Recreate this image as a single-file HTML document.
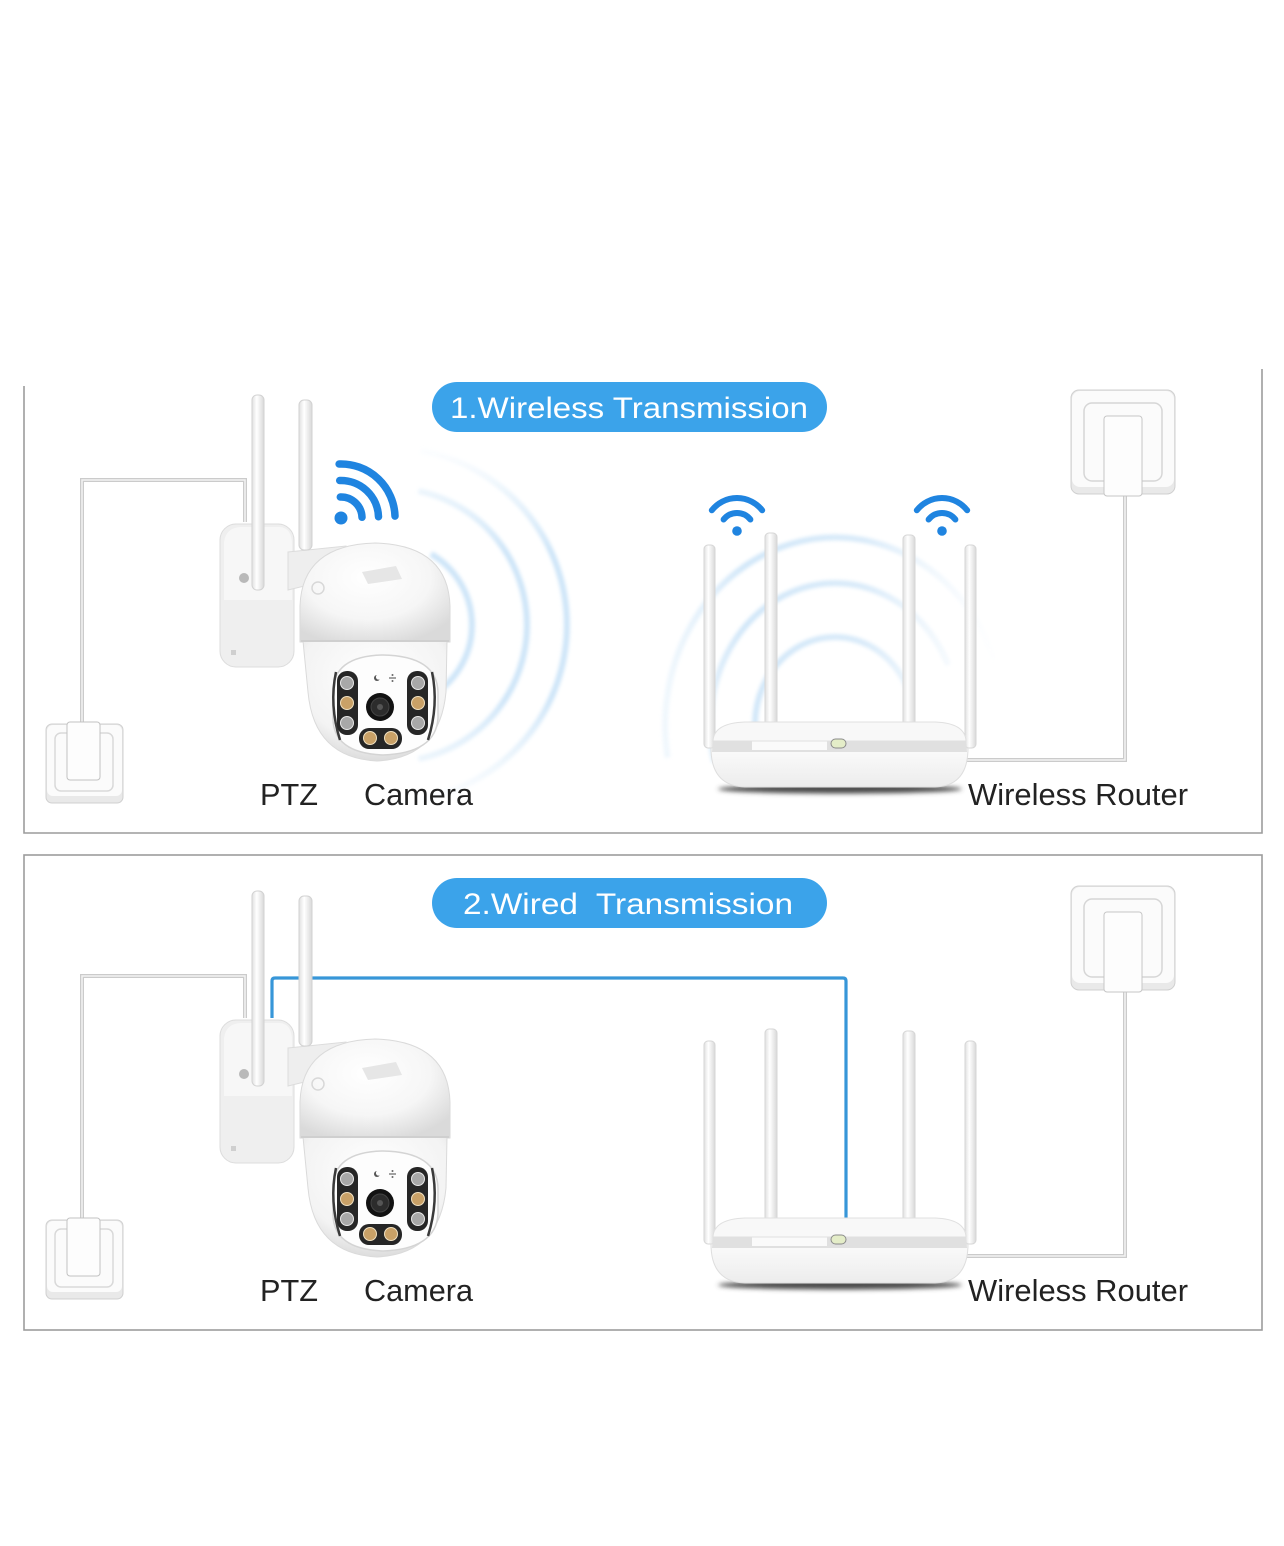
<!DOCTYPE html>
<html><head><meta charset="utf-8">
<style>
html,body{margin:0;padding:0;background:#fff;}
svg{display:block;}
text{font-family:"Liberation Sans",Arial,sans-serif;}
</style></head><body>
<svg width="1284" height="1546" viewBox="0 0 1284 1546" xmlns="http://www.w3.org/2000/svg" xmlns:xlink="http://www.w3.org/1999/xlink">
<defs>
 <radialGradient id="domeG" cx="0.45" cy="0.35" r="0.7">
  <stop offset="0" stop-color="#ffffff"/>
  <stop offset="0.6" stop-color="#f6f6f6"/>
  <stop offset="1" stop-color="#dadada"/>
 </radialGradient>
 <radialGradient id="ballG" cx="0.5" cy="0.3" r="0.75">
  <stop offset="0" stop-color="#ffffff"/>
  <stop offset="0.7" stop-color="#f3f3f3"/>
  <stop offset="1" stop-color="#d6d6d6"/>
 </radialGradient>
 <linearGradient id="antG" x1="0" x2="1" y1="0" y2="0">
  <stop offset="0" stop-color="#e0e0e0"/>
  <stop offset="0.4" stop-color="#ffffff"/>
  <stop offset="1" stop-color="#d8d8d8"/>
 </linearGradient>
 <linearGradient id="rtBody" x1="0" x2="0" y1="0" y2="1">
  <stop offset="0" stop-color="#fbfbfb"/>
  <stop offset="1" stop-color="#ececec"/>
 </linearGradient>
 <linearGradient id="camArc" gradientUnits="userSpaceOnUse" x1="0" y1="440" x2="0" y2="810">
  <stop offset="0" stop-color="#d6eaf9" stop-opacity="0"/>
  <stop offset="0.3" stop-color="#c6e1f7"/>
  <stop offset="0.7" stop-color="#c6e1f7"/>
  <stop offset="1" stop-color="#d6eaf9" stop-opacity="0"/>
 </linearGradient>
 <linearGradient id="rtArc" gradientUnits="userSpaceOnUse" x1="660" y1="0" x2="1000" y2="0">
  <stop offset="0" stop-color="#d6eaf9" stop-opacity="0.4"/>
  <stop offset="0.25" stop-color="#c6e1f7"/>
  <stop offset="0.6" stop-color="#d0e6f8"/>
  <stop offset="1" stop-color="#e6f1fb" stop-opacity="0"/>
 </linearGradient>
 <filter id="blur2" x="-20%" y="-20%" width="140%" height="140%"><feGaussianBlur stdDeviation="1.8"/></filter>
 <filter id="blurS" x="-20%" y="-200%" width="140%" height="500%"><feGaussianBlur stdDeviation="2.5"/></filter>

 <g id="cam">
  <rect x="220" y="524" width="74" height="143" rx="16" fill="#efefef" stroke="#dcdcdc"/>
  <path d="M224,542 Q226,528 240,527 L280,527 Q292,528 292,545 L292,600 L224,600 Z" fill="#f7f7f7"/>
  <rect x="231" y="650" width="5" height="5" fill="#cfcfcf"/>
  <circle cx="244" cy="578" r="5" fill="#b9b9b9"/>
  <rect x="252" y="395" width="12" height="195" rx="5" fill="url(#antG)" stroke="#d2d2d2"/>
  <path d="M288,552 L346,546 L346,576 L288,590 Z" fill="#eeeeee" stroke="#dcdcdc"/>
  <rect x="299" y="400" width="13" height="150" rx="5" fill="url(#antG)" stroke="#d2d2d2"/>
  <path d="M300,642 L300,606 Q302,545 375,543 Q448,545 450,606 L450,642 Z" fill="url(#domeG)" stroke="#dadada"/>
  <path d="M362,572 L396,566 L402,579 L368,584 Z" fill="#e6e6e6"/>
  <circle cx="318" cy="588" r="6" fill="none" stroke="#d8d8d8" stroke-width="1.5"/>
  <path d="M303,641 L447,641 L446,692 Q440,758 377,761 Q314,758 308,692 Z" fill="url(#ballG)" stroke="#dadada"/>
  <line x1="301" y1="641" x2="449" y2="641" stroke="#cfcfcf" stroke-width="2"/>
  <path d="M333,692 Q333,656 383,655 Q437,656 438,692 L438,718 Q436,753 383,755 Q333,753 333,718 Z" fill="#fdfdfd" stroke="#d4d4d4" stroke-width="1.5"/>
  <path d="M336,672 Q329,705 340,740" fill="none" stroke="#3a3a3a" stroke-width="2.5"/>
  <path d="M432,672 Q439,705 428,740" fill="none" stroke="#3a3a3a" stroke-width="2.5"/>
  <rect x="337" y="671" width="21" height="64" rx="10" fill="#262626"/>
  <rect x="407" y="671" width="21" height="64" rx="10" fill="#262626"/>
  <rect x="359" y="728" width="43" height="21" rx="10" fill="#262626"/>
  <circle cx="347" cy="683" r="6.5" fill="#a8a8a8" stroke="#e8e8e8"/>
  <circle cx="347" cy="703" r="6.5" fill="#c9a167" stroke="#f0e0c0"/>
  <circle cx="347" cy="723" r="6.5" fill="#a8a8a8" stroke="#e8e8e8"/>
  <circle cx="418" cy="683" r="6.5" fill="#a8a8a8" stroke="#e8e8e8"/>
  <circle cx="418" cy="703" r="6.5" fill="#c9a167" stroke="#f0e0c0"/>
  <circle cx="418" cy="723" r="6.5" fill="#a8a8a8" stroke="#e8e8e8"/>
  <circle cx="370" cy="738" r="6.5" fill="#c9a167" stroke="#f0e0c0"/>
  <circle cx="391" cy="738" r="6.5" fill="#c9a167" stroke="#f0e0c0"/>
  <circle cx="380" cy="707" r="14" fill="#121212"/>
  <circle cx="380" cy="707" r="9" fill="#2c2c2c" stroke="#444"/>
  <circle cx="380" cy="707" r="3" fill="#555"/>
  <circle cx="377" cy="678" r="3" fill="#555"/>
  <circle cx="378.5" cy="677" r="2.6" fill="#fdfdfd"/>
  <line x1="389" y1="678" x2="396" y2="678" stroke="#666" stroke-width="1.2"/>
  <circle cx="392.5" cy="675" r="1" fill="#666"/>
  <circle cx="392.5" cy="681" r="1" fill="#666"/>
 </g>

 <g id="rt">
  <ellipse cx="840" cy="789" rx="122" ry="4.5" fill="#4a4a4a" filter="url(#blurS)"/>
  <rect x="704" y="545" width="11" height="203" rx="4" fill="url(#antG)" stroke="#d6d6d6"/>
  <rect x="765" y="533" width="12" height="195" rx="4" fill="url(#antG)" stroke="#d6d6d6"/>
  <rect x="903" y="535" width="12" height="193" rx="4" fill="url(#antG)" stroke="#d6d6d6"/>
  <rect x="965" y="545" width="11" height="203" rx="4" fill="url(#antG)" stroke="#d6d6d6"/>
  <path d="M711,748 L968,748 Q968,786 935,787 L745,787 Q711,786 711,748 Z" fill="url(#rtBody)" stroke="#dedede"/>
  <path d="M713,739 L966,739 L967,752 L712,752 Z" fill="#e0e0e0"/>
  <rect x="752" y="741" width="75" height="9" fill="#fafafa"/>
  <path d="M713,741 Q714,723 745,722 L935,722 Q965,723 966,741 Z" fill="#f8f8f8" stroke="#e0e0e0"/>
  <rect x="831" y="739" width="15" height="9" rx="4.5" fill="#e4edc8" stroke="#8a8a8a"/>
 </g>

 <g id="olL">
  <rect x="46" y="724" width="77" height="79" rx="6" fill="#e9e9e9" stroke="#d0d0d0"/>
  <rect x="47" y="725" width="75" height="71" rx="6" fill="#fbfbfb"/>
  <rect x="55" y="733" width="58" height="58" rx="6" fill="none" stroke="#d9d9d9" stroke-width="1.5"/>
  <rect x="67" y="722" width="33" height="58" rx="3" fill="#fdfdfd" stroke="#c2c2c2"/>
 </g>

 <g id="olR">
  <rect x="1071" y="390" width="104" height="104" rx="8" fill="#e9e9e9" stroke="#d0d0d0"/>
  <rect x="1072" y="391" width="102" height="96" rx="8" fill="#fbfbfb"/>
  <rect x="1084" y="403" width="78" height="78" rx="8" fill="none" stroke="#d6d6d6" stroke-width="1.5"/>
  <rect x="1104" y="416" width="38" height="80" rx="3" fill="#fdfdfd" stroke="#c6c6c6"/>
 </g>

 <g id="cables">
  <path d="M245,522 L245,480 L82,480 L82,724" fill="none" stroke="#cbcbcb" stroke-width="4"/>
  <path d="M245,522 L245,480 L82,480 L82,724" fill="none" stroke="#f3f3f3" stroke-width="1.5"/>
  <path d="M1125,496 L1125,760 L967,760" fill="none" stroke="#cbcbcb" stroke-width="4"/>
  <path d="M1125,496 L1125,760 L967,760" fill="none" stroke="#f3f3f3" stroke-width="1.5"/>
 </g>
</defs>

<rect width="1284" height="1546" fill="#ffffff"/>

<!-- Panel 1 -->
<path d="M24,386 L24,833 L1262,833 L1262,369" fill="none" stroke="#9c9c9c" stroke-width="1.6"/>

<!-- camera waves -->
<g filter="url(#blur2)" fill="none" stroke="url(#camArc)" stroke-width="6" opacity="0.85">
 <path d="M420.7,450.7 A177,177 0 0 1 420.7,799.3"/>
 <path d="M418.5,491 A137,137 0 0 1 418.5,759"/>
 <path d="M431,554 A82,82 0 0 1 431,696"/>
</g>
<!-- router waves -->
<g filter="url(#blur2)" fill="none" stroke="url(#rtArc)" stroke-width="6" opacity="0.8">
 <path d="M667.6,757.6 A170,188 0 0 1 994.7,660.7"/>
 <path d="M714.3,761.8 A125,142 0 0 1 948.3,665"/>
 <path d="M759.8,755.1 A80,88 0 0 1 910.2,694.9"/>
</g>

<use xlink:href="#cables"/>
<use xlink:href="#olL"/>
<use xlink:href="#olR"/>
<use xlink:href="#cam"/>
<use xlink:href="#rt"/>

<!-- camera wifi -->
<g fill="none" stroke="#1f84e0" stroke-width="7.5" stroke-linecap="round">
 <path d="M339.1,464 A54,54 0 0 1 395,516.1"/>
 <path d="M339.7,480.5 A37.5,37.5 0 0 1 378.5,516.7"/>
 <path d="M340.3,497 A21,21 0 0 1 362,517.3"/>
</g>
<circle cx="341" cy="518" r="6.5" fill="#1f84e0"/>

<!-- router wifi icons -->
<g fill="none" stroke="#1f84e0" stroke-width="6" stroke-linecap="round">
 <path d="M711.8,510.3 A32,32 0 0 1 762.2,510.3"/>
 <path d="M723.6,519.5 A17,17 0 0 1 750.4,519.5"/>
 <path d="M916.8,510.3 A32,32 0 0 1 967.2,510.3"/>
 <path d="M928.6,519.5 A17,17 0 0 1 955.4,519.5"/>
</g>
<circle cx="737" cy="531" r="4.8" fill="#1f84e0"/>
<circle cx="942" cy="531" r="4.8" fill="#1f84e0"/>

<!-- pill 1 -->
<rect x="432" y="382" width="395" height="50" rx="25" fill="#3ba3ea"/>
<text x="450" y="418" font-size="30" fill="#ffffff" textLength="358" lengthAdjust="spacingAndGlyphs">1.Wireless Transmission</text>

<!-- labels 1 -->
<text x="260" y="805" font-size="31" fill="#222" textLength="58" lengthAdjust="spacingAndGlyphs">PTZ</text>
<text x="364" y="805" font-size="31" fill="#222" textLength="109" lengthAdjust="spacingAndGlyphs">Camera</text>
<text x="968" y="805" font-size="31" fill="#222" textLength="220" lengthAdjust="spacingAndGlyphs">Wireless Router</text>

<!-- Panel 2 -->
<rect x="24" y="855" width="1238" height="475" fill="none" stroke="#9c9c9c" stroke-width="1.6"/>

<!-- blue wired cable -->
<path d="M272,1018 L272,981 Q272,978 275,978 L843,978 Q846,978 846,981 L846,1219" fill="none" stroke="#3796d8" stroke-width="3.2"/>

<g transform="translate(0,496)">
 <use xlink:href="#cables"/>
 <use xlink:href="#olL"/>
 <use xlink:href="#olR"/>
 <use xlink:href="#cam"/>
 <use xlink:href="#rt"/>
</g>

<!-- pill 2 -->
<rect x="432" y="878" width="395" height="50" rx="25" fill="#3ba3ea"/>
<text x="463" y="914" font-size="30" fill="#ffffff" textLength="330" lengthAdjust="spacingAndGlyphs">2.Wired&#160; Transmission</text>

<!-- labels 2 -->
<text x="260" y="1301" font-size="31" fill="#222" textLength="58" lengthAdjust="spacingAndGlyphs">PTZ</text>
<text x="364" y="1301" font-size="31" fill="#222" textLength="109" lengthAdjust="spacingAndGlyphs">Camera</text>
<text x="968" y="1301" font-size="31" fill="#222" textLength="220" lengthAdjust="spacingAndGlyphs">Wireless Router</text>
</svg>
</body></html>
